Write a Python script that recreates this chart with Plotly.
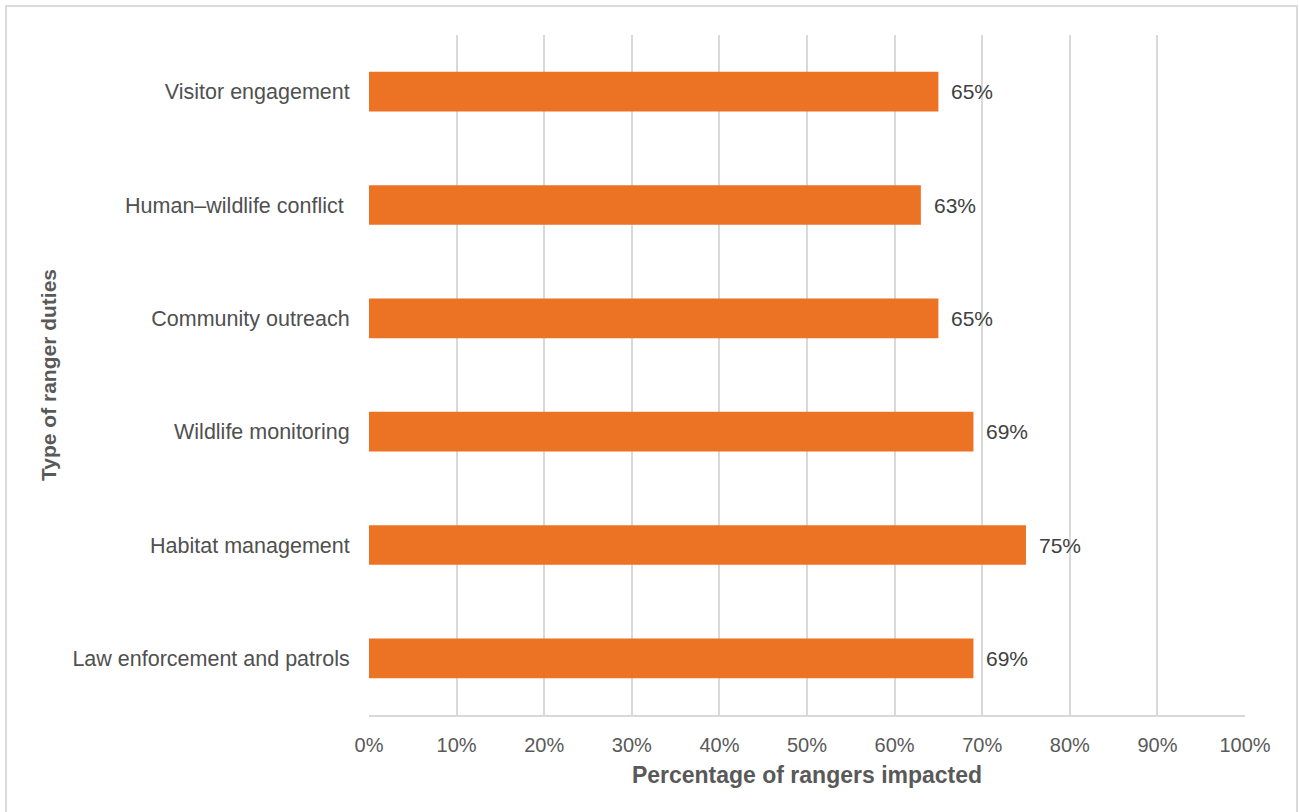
import plotly.graph_objects as go

categories = ["Law enforcement and patrols", "Habitat management", "Wildlife monitoring",
              "Community outreach", "Human–wildlife conflict ", "Visitor engagement"]
values = [69, 75, 69, 65, 63, 65]
tick_vals = [0, 10, 20, 30, 40, 50, 60, 70, 80, 90, 100]
tick_text = [f"{v}%" for v in tick_vals]

FONT = "Liberation Sans, Arial, sans-serif"
W, H = 1299, 812
L, R, T, B = 369, 54, 35, 97
pw, ph = W - L - R, H - T - B

fig = go.Figure(go.Bar(
    y=categories, x=values, orientation="h",
    marker=dict(color="#EC7323", line=dict(width=0)),
    width=0.35,
    hoverinfo="x+y",
))

for c, v in zip(categories, values):
    fig.add_annotation(x=v, y=c, xref="x", yref="y", text=f"{v}%", showarrow=False,
                       xanchor="left", yanchor="middle", xshift=11,
                       font=dict(family=FONT, size=21, color="#404040"))

fig.update_layout(
    width=W, height=H,
    margin=dict(l=L, r=R, t=T, b=B),
    paper_bgcolor="white", plot_bgcolor="white",
    font=dict(family=FONT, size=20, color="#595959"),
    showlegend=False,
    xaxis=dict(
        range=[0, 100], tickvals=tick_vals, ticktext=tick_text,
        showgrid=True, gridcolor="#D9D9D9", gridwidth=1.5,
        showline=True, linecolor="#D9D9D9", linewidth=1.5,
        zeroline=False, ticks="outside", ticklen=11, tickcolor="rgba(0,0,0,0)",
        tickfont=dict(size=20, color="#595959"),
        title=dict(text="<b>Percentage of rangers impacted</b>", font=dict(size=23, color="#595959"), standoff=12),
        fixedrange=True,
    ),
    yaxis=dict(
        showgrid=False, showline=False, zeroline=False,
        ticks="outside", ticklen=14, tickcolor="rgba(0,0,0,0)",
        tickfont=dict(size=21.5, color="#505050"),
        title=dict(text="<b>Type of ranger duties</b>", font=dict(size=21, color="#595959"), standoff=10),
        fixedrange=True,
    ),
    shapes=[dict(type="rect", xref="paper", yref="paper",
                 x0=(6 - L) / pw, x1=(1297 - L) / pw,
                 y0=(H - 830 - B) / ph, y1=(H - 6 - B) / ph,
                 line=dict(color="#DADADA", width=2), fillcolor="rgba(0,0,0,0)", layer="below")],
)

fig.write_html("out.html", config={"displayModeBar": False},
               post_script="document.body.style.margin='0';document.body.style.overflow='hidden';")
